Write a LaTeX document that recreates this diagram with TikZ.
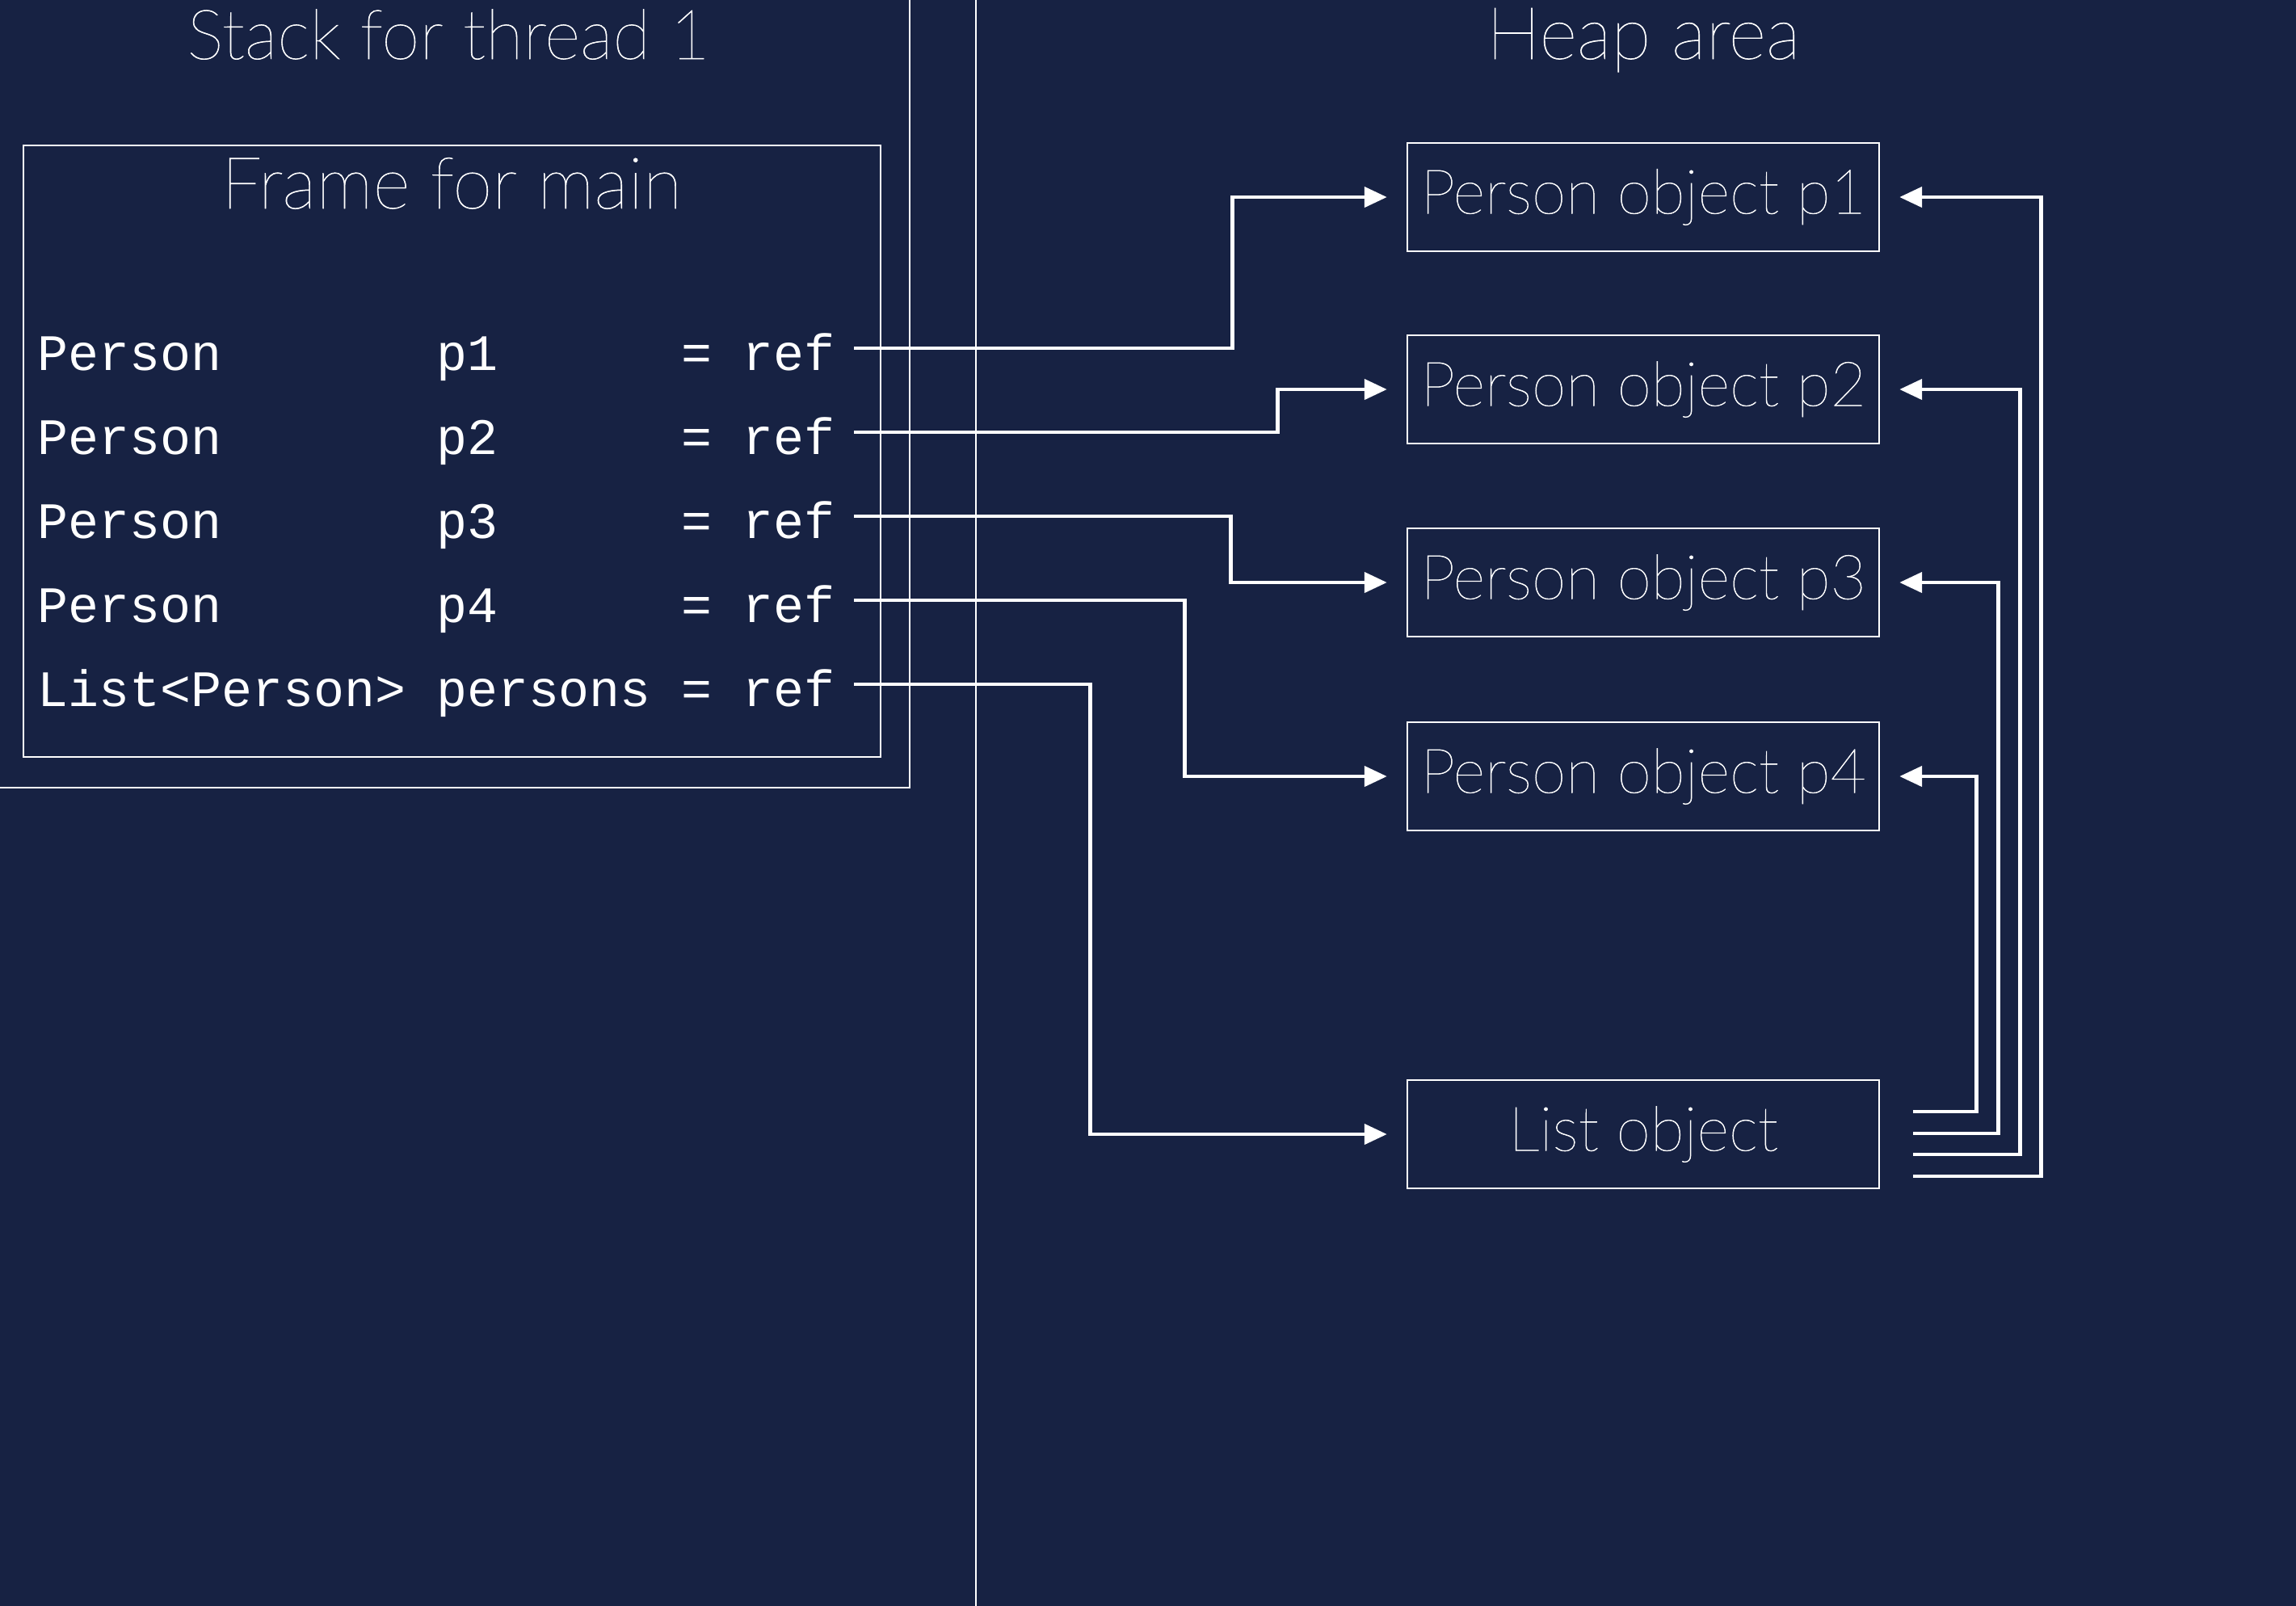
\documentclass[tikz,border=0pt]{standalone}
\usepackage{fontspec}
\usetikzlibrary{arrows.meta}
\newfontfamily\thinfont{Lato Thin}[FakeBold=0.7,BoldFont={Lato Thin}]
\setmonofont{Liberation Mono}
\definecolor{navy}{RGB}{23,34,67}
\newcommand\pad[2]{\makebox[#1\fontcharwd\font`x][l]{#2}}

\begin{document}
\begin{tikzpicture}[x=1cm, y=-1cm, white,
  title/.style={anchor=base, inner sep=0pt, font=\thinfont\bfseries\fontsize{#1}{30}\selectfont},
  title/.default=25,
  code/.style={anchor=base west, inner sep=0pt, font=\ttfamily\fontsize{18}{22}\selectfont},
  obj/.style={draw, line width=0.7pt, minimum width=5.84cm, minimum height=1.34cm, inner sep=0pt,
    font=\thinfont\bfseries\fontsize{21.8}{26}\selectfont},
  ref/.style={line width=1.3pt, shorten >=0.24cm, -{Triangle[length=0.28cm,width=0.25cm]}}]
\fill[navy] (0,0) rectangle (28.42,19.88);
\useasboundingbox (0,0) rectangle (28.42,19.88);
\draw[line width=0.7pt] (-0.2,-0.2) rectangle (11.26,9.75);
\draw[line width=0.7pt] (12.08,-0.2) -- (12.08,20.1);
\node (stack) [title=24.3] at (5.55,0.73) {Stack for thread 1};
\node (heap) [title=25.6] at (20.34,0.73) {Heap area};
\draw[line width=0.7pt] (0.29,1.80) rectangle (10.90,9.37);
\node (frame) [title=25.3] at (5.59,2.58) {Frame for main};
\node (r1) [code] at (0.46,4.58) {\pad{13}{Person}\pad{8}{p1}= ref};
\node (r2) [code] at (0.46,5.62) {\pad{13}{Person}\pad{8}{p2}= ref};
\node (r3) [code] at (0.46,6.66) {\pad{13}{Person}\pad{8}{p3}= ref};
\node (r4) [code] at (0.46,7.70) {\pad{13}{Person}\pad{8}{p4}= ref};
\node (r5) [code] at (0.46,8.74) {\pad{13}{List<Person>}\pad{8}{persons}= ref};
\node (p1) [obj] at (20.34,2.44) {Person object p1};
\node (p2) [obj] at (20.34,4.82) {Person object p2};
\node (p3) [obj] at (20.34,7.21) {Person object p3};
\node (p4) [obj] at (20.34,9.61) {Person object p4};
\node (list) [obj] at (20.34,14.04) {List object};
\draw[ref] ([shift={(0.23,-0.27)}]r1.base east) -- ++(4.68,0) |- (p1.west);
\draw[ref] ([shift={(0.23,-0.27)}]r2.base east) -- ++(5.24,0) |- (p2.west);
\draw[ref] ([shift={(0.23,-0.27)}]r3.base east) -- ++(4.66,0) |- (p3.west);
\draw[ref] ([shift={(0.23,-0.27)}]r4.base east) -- ++(4.09,0) |- (p4.west);
\draw[ref] ([shift={(0.23,-0.27)}]r5.base east) -- ++(2.92,0) |- (list.west);
\draw[ref] ([shift={(0.41,-0.28)}]list.east) -- ++(0.78,0) |- (p4.east);
\draw[ref] ([shift={(0.41,-0.01)}]list.east) -- ++(1.05,0) |- (p3.east);
\draw[ref] ([shift={(0.41,0.25)}]list.east) -- ++(1.32,0) |- (p2.east);
\draw[ref] ([shift={(0.41,0.52)}]list.east) -- ++(1.58,0) |- (p1.east);
\end{tikzpicture}
\end{document}
